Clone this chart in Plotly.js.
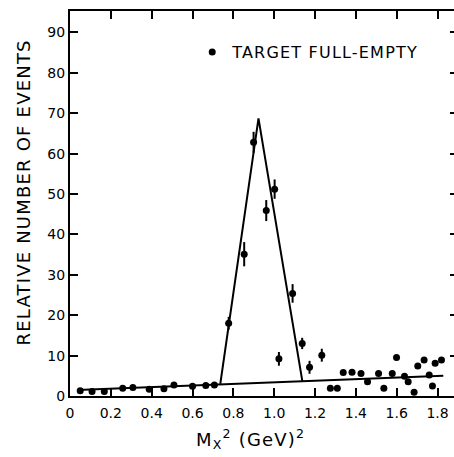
<!DOCTYPE html>
<html>
<head>
<meta charset="utf-8">
<script src="https://cdn.plot.ly/plotly-3.0.1.min.js"></script>
<style>
html,body{margin:0;padding:0;overflow:hidden;background:#fff;}
#chart{width:458px;height:457px;}
.legendtext{letter-spacing:1.2px;}
.annotation-text{letter-spacing:1.2px;}
</style>
</head>
<body>
<div id="chart"></div>
<script>
// Data points: M_X^2 (GeV^2) and relative number of events
var mx2 = [0.05,0.108,0.168,0.258,0.308,0.388,0.46,0.509,0.60,0.665,0.707,
           0.777,0.853,0.899,0.961,1.002,1.023,1.090,1.137,1.173,1.233,
           1.275,1.309,1.338,1.381,1.425,1.457,1.511,1.537,1.578,1.599,1.638,1.656,1.685,1.703,1.734,1.759,1.775,1.788,1.819];
var events = [1.3,1.1,1.1,1.9,2.1,1.7,1.8,2.7,2.4,2.6,2.7,
              18.0,35.1,62.8,45.9,51.2,9.2,25.4,13.0,7.1,10.1,
              1.9,1.9,5.8,5.9,5.6,3.5,5.6,1.9,5.6,9.5,4.9,3.5,0.9,7.4,8.9,5.2,2.5,8.1,8.9];
var errors = [0,0,0,0,0,0,0,0,0,0,0,
              1.6,3.0,2.6,2.6,2.4,1.7,2.3,1.4,1.6,1.6,
              0,0,0,0,0,0,0,0,0,0,0,0,0,0,0,0,0,0,0];
// Background line
var bgX = [0.035, 1.828];
var bgY = [1.5, 5.0];
// Peak (triangle) fit
var peakX = [0.736, 0.923, 1.138];
var peakY = [3.0, 68.7, 3.6];
// Tick labels and titles
var xTickVals = [0,0.2,0.4,0.6,0.8,1.0,1.2,1.4,1.6,1.8];
var xTickText = ['0','0.2','0.4','0.6','0.8','1.0','1.2','1.4','1.6','1.8'];
var yTickVals = [0,10,20,30,40,50,60,70,80,90];
var xTitle = 'M<sub>X</sub><sup>2</sup> (GeV)<sup>2</sup>';
var yTitle = 'RELATIVE NUMBER OF EVENTS';
var seriesName = 'TARGET FULL-EMPTY';

var FONT = 'DejaVu Sans, Liberation Sans, sans-serif';

var traces = [
  {x: bgX, y: bgY, mode: 'lines', line: {color: '#000', width: 2}, showlegend: false, hoverinfo: 'skip'},
  {x: peakX, y: peakY, mode: 'lines', line: {color: '#000', width: 2}, showlegend: false, hoverinfo: 'skip'},
  {x: mx2, y: events, mode: 'markers', name: seriesName,
   marker: {color: '#000', size: 7},
   error_y: {type: 'data', array: errors, visible: true, color: '#000', thickness: 2, width: 0},
   showlegend: true}
];

var layout = {
  width: 458, height: 457,
  margin: {l: 70, r: 0, t: 11, b: 61, pad: 0},
  paper_bgcolor: '#fff', plot_bgcolor: '#fff',
  font: {family: FONT, color: '#000', size: 14},
  showlegend: true,
  legend: {x: 0.315, xanchor: 'left', y: 0.893, yanchor: 'middle', bgcolor: 'rgba(0,0,0,0)',
           font: {family: FONT, size: 16, color: '#000'}, itemwidth: 30},
  xaxis: {
    range: [0, 1.9], tickvals: xTickVals, ticktext: xTickText,
    ticks: 'inside', ticklen: 8, tickwidth: 2, tickcolor: '#000',
    showline: true, linewidth: 2, linecolor: '#000', mirror: 'ticks',
    showgrid: false, zeroline: false, ticklabelstandoff: 3,
    tickfont: {family: FONT, size: 14, color: '#000'}
  },
  yaxis: {
    range: [0, 95.3], tickvals: yTickVals,
    ticks: 'inside', ticklen: 8, tickwidth: 2, tickcolor: '#000',
    showline: true, linewidth: 2, linecolor: '#000', mirror: 'ticks',
    showgrid: false, zeroline: false,
    tickfont: {family: FONT, size: 14, color: '#000'}
  },
  annotations: [
    {text: yTitle, xref: 'paper', yref: 'paper', x: -0.121, y: 0.5286,
     xanchor: 'center', yanchor: 'middle', textangle: -90, showarrow: false,
     font: {family: FONT, size: 18, color: '#000'}},
    {text: xTitle, xref: 'paper', yref: 'paper', x: 0.464, y: -0.112,
     xanchor: 'center', yanchor: 'middle', showarrow: false,
     font: {family: FONT, size: 18, color: '#000'}}
  ]
};

Plotly.newPlot('chart', traces, layout, {displayModeBar: false, staticPlot: true});
</script>
</body>
</html>
